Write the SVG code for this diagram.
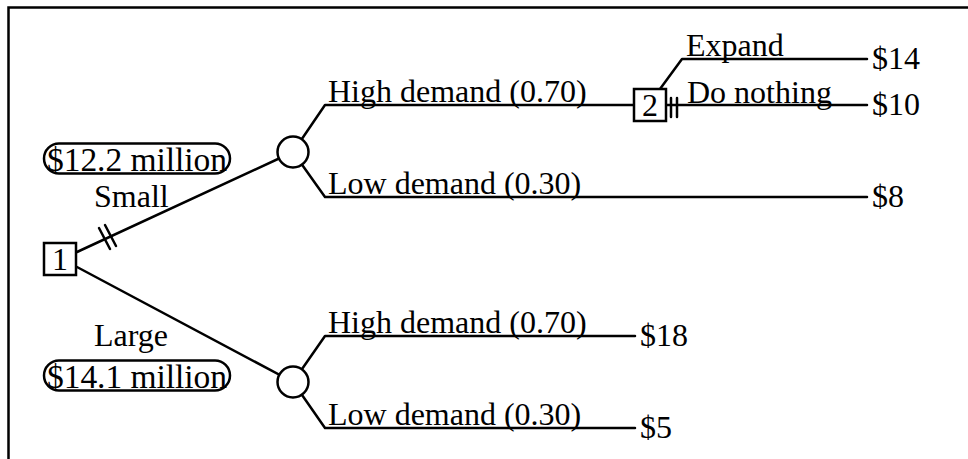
<svg xmlns="http://www.w3.org/2000/svg" width="968" height="459" viewBox="0 0 968 459">
  <style>
    .ln { fill: none; stroke: #000; stroke-width: 2.5; stroke-linecap: round; stroke-linejoin: round; }
    .node { fill: #fff; stroke: #000; stroke-width: 2.5; }
    text { font-family: "Liberation Serif", "Times New Roman", serif; font-size: 32px; fill: #000; }
    .c { text-anchor: middle; }
    .val { font-size: 33.5px; }
  </style>
  <rect width="968" height="459" fill="#fff"/>
  <!-- frame -->
  <path d="M8.5 459 V7.5 H968" fill="none" stroke="#000" stroke-width="2.5"/>

  <g id="connectors" class="ln">
    <!-- decision 1 branches -->
    <line x1="77" y1="252" x2="293" y2="152"/>
    <line x1="77" y1="267" x2="293" y2="382"/>
    <!-- pruned marks on Small -->
    <line x1="99" y1="228" x2="110" y2="249"/>
    <line x1="105" y1="225" x2="116" y2="246"/>
    <!-- small plant chance branches -->
    <polyline points="293,152 325,105 634,105"/>
    <polyline points="293,152 325,197 867,197"/>
    <!-- decision 2 branches -->
    <polyline points="660,89 682,59 867,59"/>
    <line x1="666" y1="105" x2="867" y2="105"/>
    <line x1="671" y1="98" x2="671" y2="117"/>
    <line x1="677" y1="98" x2="677" y2="117"/>
    <!-- large plant chance branches -->
    <polyline points="293,382 325,336 635,336"/>
    <polyline points="293,382 325,428 635,428"/>
  </g>

  <g id="decision1">
    <rect class="node" x="44" y="243" width="32" height="32"/>
    <text class="c" x="60" y="270">1</text>
  </g>
  <g id="chance-small">
    <circle class="node" cx="293" cy="152" r="15.5"/>
  </g>
  <g id="chance-large">
    <circle class="node" cx="293" cy="382" r="15.5"/>
  </g>
  <g id="decision2">
    <rect class="node" x="634" y="89" width="32" height="32"/>
    <text class="c" x="650" y="116">2</text>
  </g>

  <g id="label-small">
    <rect x="44" y="143.5" width="186" height="30" rx="15" fill="none" stroke="#000" stroke-width="2.5"/>
    <text class="val" x="47" y="170.5" textLength="180" lengthAdjust="spacing">$12.2 million</text>
    <text x="94" y="207">Small</text>
  </g>
  <g id="label-large">
    <text x="94" y="346">Large</text>
    <rect x="44" y="360.5" width="186" height="30" rx="15" fill="none" stroke="#000" stroke-width="2.5"/>
    <text class="val" x="47" y="387.5" textLength="180" lengthAdjust="spacing">$14.1 million</text>
  </g>

  <g id="branch-labels">
    <text x="328" y="102">High demand (0.70)</text>
    <text x="328" y="194">Low demand (0.30)</text>
    <text x="686" y="56">Expand</text>
    <text x="687" y="103">Do nothing</text>
    <text x="328" y="333">High demand (0.70)</text>
    <text x="328" y="425">Low demand (0.30)</text>
  </g>

  <g id="payoffs">
    <text x="872" y="69">$14</text>
    <text x="872" y="115">$10</text>
    <text x="872" y="207">$8</text>
    <text x="640" y="346">$18</text>
    <text x="640" y="438">$5</text>
  </g>
</svg>
